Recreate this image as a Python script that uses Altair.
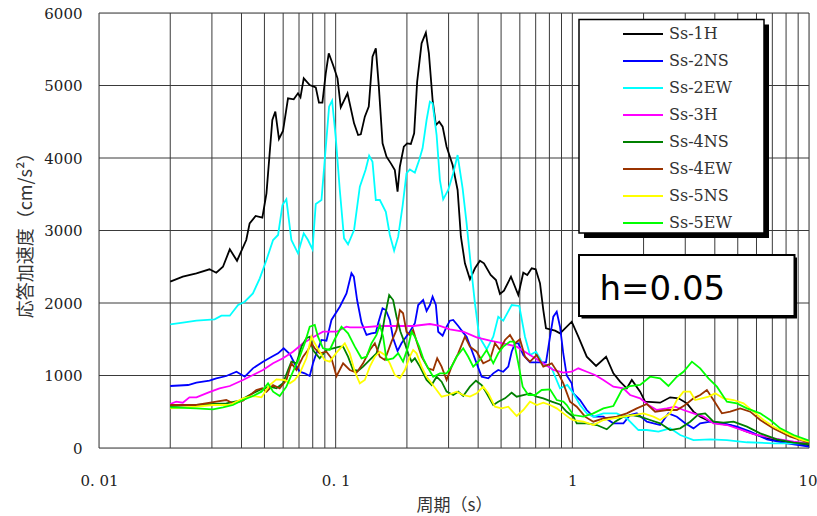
import altair as alt
import pandas as pd

# ---- data (period [s], response acceleration [cm/s^2]) ----
S_1H = [(0.02,2294),(0.0226,2363),(0.0258,2410),(0.0293,2465),(0.0313,2418),(0.0334,2500),(0.0357,2740),(0.0383,2583),
        (0.0419,2869),(0.0433,3099),(0.0459,3200),(0.049,3177),(0.051,3513),(0.054,4524),(0.0556,4639),(0.0576,4262),
        (0.0599,4372),(0.0629,4823),(0.0665,4810),(0.0693,4892),(0.071,4837),(0.0733,5099),(0.0777,5007),(0.0824,4975),
        (0.085,4763),(0.0879,4763),(0.0908,5168),(0.0935,5444),(0.0975,5283),(0.1018,5099),(0.1051,4699),(0.1122,4892),
        (0.1196,4478),(0.1244,4317),(0.1277,4326),(0.1328,4570),(0.138,4708),(0.1431,5398),(0.1478,5513),(0.1522,4984),
        (0.1578,4202),(0.164,4018),(0.1711,3926),(0.1778,3834),(0.1826,3535),(0.1867,3880),(0.1941,4156),(0.2004,4202),
        (0.2078,4193),(0.2146,4340),(0.221,5053),(0.2307,5582),(0.2405,5729),(0.2477,5444),(0.2568,4800),(0.2651,4455),
        (0.2738,4501),(0.2831,4432),(0.2943,4156),(0.312,3903),(0.3275,3559),(0.3382,2914),(0.3517,2548),(0.3693,2327),
        (0.3877,2479),(0.407,2584),(0.4232,2548),(0.4517,2386),(0.4756,2317),(0.4945,2124),(0.5142,2170),(0.5505,2363),
        (0.5911,2110),(0.6205,2418),(0.6451,2386),(0.6735,2479),(0.7002,2465),(0.7302,2271),(0.754,1903),(0.774,1651),
        (0.8451,1618),(0.8872,1582),(0.9942,1742),(1.06,1535),(1.1506,1259),(1.2597,1131),(1.3888,1259),(1.4908,1030),
        (1.5916,915),(1.6988,823),(1.7838,938),(1.9339,777),(2.0302,639),(2.3496,625),(2.5898,699),(2.8087,685),
        (3.0478,616),(3.2501,501),(3.469,432),(3.7028,386),(4.082,341),(4.6462,317),(5.4665,225),(6.642,133),
        (8.6084,64),(10,41)]

S_2NS = [(0.02,855),(0.0238,869),(0.0258,901),(0.0293,928),(0.0313,961),(0.0345,993),(0.0381,1052),(0.0413,983),
         (0.0447,1099),(0.0493,1191),(0.0544,1269),(0.0571,1306),(0.0603,1375),(0.064,1297),(0.0676,1145),(0.0705,1052),
         (0.074,1030),(0.0777,993),(0.0802,1168),(0.0829,1306),(0.0871,1490),(0.0914,1480),(0.096,1766),(0.1041,1949),
         (0.1111,2133),(0.1166,2410),(0.1193,2363),(0.1232,2041),(0.1286,1729),(0.135,1559),(0.1417,1582),(0.1478,1591),
         (0.1512,1720),(0.1578,1927),(0.1629,1903),(0.1694,1766),(0.1749,1513),(0.1826,1338),(0.1897,1444),(0.1979,1527),
         (0.2058,1604),(0.2161,1720),(0.2232,1972),(0.2343,2041),(0.2422,1890),(0.2501,1972),(0.2568,2087),(0.2651,1972),
         (0.2712,1604),(0.2831,1549),(0.2943,1673),(0.3039,1756),(0.3138,1766),(0.3295,1683),(0.3459,1591),(0.3575,1535),
         (0.3754,1352),(0.3941,1168),(0.4139,983),(0.4413,961),(0.4633,1030),(0.4864,1076),(0.5106,1052),(0.5362,1122),
         (0.5543,1328),(0.5723,1444),(0.5911,1444),(0.6205,1283),(0.6624,1182),(0.7182,1182),(0.774,1182),(0.805,1535),
         (0.8312,1811),(0.8591,1880),(0.8872,1673),(0.916,1300),(0.9469,1000),(0.9942,892),(1.0098,754),(1.0779,662),
         (1.1506,524),(1.227,432),(1.3525,432),(1.4908,341),(1.6434,341),(1.7545,455),(1.8726,478),(2.0642,363),
         (2.3496,317),(2.5471,478),(2.765,432),(2.9977,341),(3.25,271),(3.469,341),(3.8243,363),(4.3523,341),
         (4.959,294),(5.6455,225),(6.642,120),(8.0704,64),(10,18)]

S_2EW = [(0.02,1706),(0.0226,1729),(0.0258,1757),(0.0308,1775),(0.0329,1825),(0.0357,1825),(0.0387,1972),(0.0413,2018),
         (0.0447,2133),(0.0478,2340),(0.051,2593),(0.0544,2869),(0.0571,2938),(0.0596,3352),(0.0619,3430),(0.065,2869),
         (0.0693,2685),(0.0733,2961),(0.0764,2869),(0.0798,2740),(0.0824,3365),(0.0871,3421),(0.0938,4708),(0.0966,4791),
         (0.1,4294),(0.1041,3559),(0.1085,2892),(0.1128,2810),(0.1196,3007),(0.1265,3604),(0.1337,3834),(0.1385,4032),
         (0.1431,3949),(0.1478,3421),(0.1537,3421),(0.1629,3259),(0.1694,2938),(0.1766,2722),(0.1837,2915),(0.1916,3329),
         (0.1992,3789),(0.2058,3843),(0.2161,3798),(0.2254,3972),(0.2329,4133),(0.2422,4524),(0.2501,4777),(0.2568,4754),
         (0.267,4317),(0.2757,3696),(0.2847,3430),(0.2989,3559),(0.3138,3789),(0.3275,4041),(0.3439,3582),(0.3575,3099),
         (0.3717,2548),(0.3877,1996),(0.4042,1535),(0.4345,1361),(0.4633,1535),(0.4864,1811),(0.5106,1756),(0.5543,1972),
         (0.5968,1959),(0.6308,1535),(0.6624,1283),(0.7022,1328),(0.7497,1168),(0.8184,1099),(0.8872,823),(0.9524,869),
         (1.0098,754),(1.0779,593),(1.1506,478),(1.227,432),(1.3525,478),(1.5411,478),(1.6988,409),(1.9021,248),
         (2.0642,248),(2.3111,225),(2.5898,271),(2.8557,179),(3.25,110),(3.8243,120),(4.4989,110),(5.4665,79),
         (7.0843,64),(10,64)]

S_3H = [(0.02,607),(0.0212,639),(0.0226,625),(0.0241,699),(0.0258,699),(0.0289,763),(0.0323,823),(0.0357,855),
        (0.0406,938),(0.0447,1007),(0.0493,1076),(0.0544,1168),(0.0599,1237),(0.066,1328),(0.0728,1444),(0.0802,1527),
        (0.0884,1604),(0.1008,1604),(0.1111,1673),(0.1147,1665),(0.1306,1665),(0.1537,1683),(0.1808,1683),(0.2125,1683),
        (0.2501,1710),(0.2757,1683),(0.3039,1637),(0.3459,1604),(0.3941,1527),(0.4487,1480),(0.5106,1444),(0.5819,1398),
        (0.6624,1283),(0.754,1168),(0.8312,1076),(0.916,1039),(0.9942,1052),(1.0602,1099),(1.1506,1052),(1.2474,1007),
        (1.3525,938),(1.4908,846),(1.6434,823),(1.7545,731),(1.9339,685),(2.0968,593),(2.2751,524),(2.5076,547),
        (2.7195,570),(2.9484,524),(3.25,478),(3.582,432),(3.9487,341),(4.4989,317),(5.1214,258),(5.8307,193),
        (7.0843,133),(8.6084,87),(10,64)]

S_4NS = [(0.02,579),(0.0258,593),(0.0303,607),(0.0345,616),(0.0393,653),(0.0433,731),(0.0478,800),(0.0526,846),
         (0.0562,823),(0.0599,892),(0.0629,1076),(0.065,1191),(0.0683,1168),(0.0717,1398),(0.0752,1513),(0.0777,1535),
         (0.0802,1352),(0.0856,1237),(0.0914,1352),(0.0975,1375),(0.1041,1398),(0.1075,1398),(0.1128,1259),(0.1185,1076),
         (0.1244,1066),(0.1306,1122),(0.1394,1214),(0.1488,1306),(0.1562,1535),(0.1613,1811),(0.1683,2110),(0.1749,2041),
         (0.1808,1811),(0.1879,1604),(0.196,1444),(0.2024,1306),(0.2092,1191),(0.2161,1237),(0.2269,1122),(0.2422,938),
         (0.2543,869),(0.267,983),(0.2803,915),(0.2943,777),(0.3138,731),(0.3295,777),(0.3459,717),(0.3693,846),
         (0.3914,928),(0.4139,869),(0.4345,754),(0.4633,593),(0.4864,639),(0.5192,685),(0.5543,763),(0.5819,708),
         (0.6205,731),(0.6624,754),(0.7071,708),(0.754,685),(0.8184,639),(0.8872,600),(0.9469,500),(1.0098,432),
         (1.0438,341),(1.1506,341),(1.2682,317),(1.3981,258),(1.5157,363),(1.6434,432),(1.7838,455),(1.9339,432),
         (2.1319,386),(2.3496,341),(2.5898,248),(2.8557,271),(3.1477,363),(3.4119,464),(3.6419,478),(3.9487,363),
         (4.3523,349),(4.7983,363),(5.4665,294),(6.223,202),(7.3216,120),(8.6084,73),(10,55)]

S_4EW = [(0.02,593),(0.0258,593),(0.0313,639),(0.0345,662),(0.0368,616),(0.0406,653),(0.0462,800),(0.049,823),
         (0.051,777),(0.0544,869),(0.058,823),(0.0619,938),(0.065,1168),(0.0683,1076),(0.0728,1259),(0.0764,1352),
         (0.079,1444),(0.0816,1375),(0.0856,1306),(0.0914,1328),(0.096,1237),(0.1008,990),(0.1075,1168),(0.1147,1076),
         (0.1225,1039),(0.1306,1168),(0.1394,1352),(0.1464,1444),(0.1537,1259),(0.1613,1214),(0.1722,1467),(0.1808,1628),
         (0.1867,1903),(0.1927,1858),(0.1992,1604),(0.2058,1559),(0.2125,1628),(0.221,1444),(0.2307,1259),(0.246,1099),
         (0.2583,1076),(0.2685,1237),(0.2803,1122),(0.2943,938),(0.3089,1122),(0.3295,1306),(0.3517,1535),(0.3693,1398),
         (0.3941,1328),(0.4203,1168),(0.4487,1214),(0.471,1444),(0.4945,1352),(0.5192,1490),(0.5451,1559),(0.5723,1444),
         (0.6009,1499),(0.6308,1259),(0.6624,1191),(0.7071,1283),(0.754,1122),(0.8184,1168),(0.8726,1030),(0.916,892),
         (0.9779,639),(1.0438,570),(1.1317,432),(1.227,363),(1.3525,409),(1.5411,432),(1.6988,478),(1.8726,547),
         (2.0642,607),(2.2381,501),(2.5076,524),(2.765,524),(2.9977,593),(3.25,685),(3.469,731),(3.7028,800),
         (3.9487,662),(4.2855,478),(4.6462,501),(5.1214,547),(5.6455,501),(6.223,386),(7.0843,271),(8.335,156),(10,73)]

S_5NS = [(0.02,547),(0.0258,570),(0.0303,593),(0.0357,593),(0.0406,685),(0.0447,717),(0.0486,699),(0.0526,869),
         (0.0562,947),(0.0609,938),(0.064,892),(0.0671,938),(0.0705,1030),(0.0752,1237),(0.079,1535),(0.0816,1444),
         (0.0856,1328),(0.0899,1214),(0.0944,1191),(0.1008,1315),(0.1093,1444),(0.1147,1306),(0.1205,1052),(0.1265,892),
         (0.1328,938),(0.1394,1122),(0.1464,1259),(0.1537,1328),(0.1613,1283),(0.1694,1168),(0.1778,1007),(0.1867,961),
         (0.196,1076),(0.2058,1259),(0.2125,1352),(0.2197,1306),(0.2307,1122),(0.2422,983),(0.2543,892),(0.267,800),
         (0.2803,708),(0.2989,731),(0.3243,777),(0.3459,731),(0.3693,708),(0.3941,754),(0.4203,846),(0.4413,754),
         (0.471,570),(0.5028,547),(0.5362,570),(0.5819,441),(0.6205,524),(0.6624,639),(0.7071,593),(0.754,625),
         (0.805,593),(0.8591,547),(0.916,478),(0.9779,409),(1.0098,386),(1.1131,363),(1.227,317),(1.3525,386),
         (1.4908,409),(1.6434,432),(1.8113,455),(1.9968,478),(2.2013,432),(2.3496,386),(2.5898,478),(2.765,662),
         (2.9484,777),(3.1477,777),(3.3037,662),(3.5271,685),(3.7613,708),(4.0148,754),(4.3523,685),(4.7983,662),
         (5.2892,616),(5.8307,501),(6.4269,386),(7.0843,294),(8.0704,202),(9.1894,120),(10,87)]

S_5EW = [(0.02,561),(0.0258,547),(0.0303,533),(0.0334,561),(0.0368,593),(0.0406,662),(0.0447,717),(0.0486,777),
         (0.0518,892),(0.0544,777),(0.058,717),(0.0619,846),(0.066,1052),(0.0705,1259),(0.074,1444),(0.0777,1673),
         (0.0816,1697),(0.0842,1535),(0.0884,1375),(0.0944,1352),(0.0991,1500),(0.1058,1673),(0.1128,1582),(0.1205,1398),
         (0.1286,1237),(0.135,1259),(0.1417,1444),(0.1488,1559),(0.1537,1697),(0.1587,1535),(0.164,1214),(0.1749,1237),
         (0.1837,1306),(0.1927,1191),(0.2024,1398),(0.2092,1604),(0.2161,1535),(0.2254,1398),(0.2343,1237),(0.246,1099),
         (0.2583,983),(0.2757,1030),(0.2943,1030),(0.3089,1122),(0.3243,1259),(0.3459,1375),(0.3632,1259),(0.3813,1122),
         (0.407,1214),(0.4345,1352),(0.4633,1168),(0.4864,1306),(0.5106,1398),(0.5451,1467),(0.5668,1467),(0.5911,1168),
         (0.6169,846),(0.6515,731),(0.6954,731),(0.7425,800),(0.805,809),(0.8591,662),(0.916,639),(0.9469,593),
         (1.0098,455),(1.1131,432),(1.227,478),(1.3525,547),(1.4908,579),(1.6182,800),(1.7545,855),(1.9339,869),
         (2.1319,983),(2.3496,961),(2.5471,855),(2.765,983),(2.9484,1052),(3.2004,1191),(3.469,1099),(3.7613,961),
         (4.082,846),(4.4989,639),(4.959,616),(5.4665,547),(6.223,478),(6.8597,386),(7.5615,271),(8.6084,179),(10,101)]

SERIES_NAMES = ["Ss-1H", "Ss-2NS", "Ss-2EW", "Ss-3H", "Ss-4NS", "Ss-4EW", "Ss-5NS", "Ss-5EW"]
SERIES_COLORS = ["#000000", "#0000FF", "#00FFFF", "#FF00FF", "#008000", "#993300", "#FFFF00", "#00FF00"]
SERIES_DATA = [S_1H, S_2NS, S_2EW, S_3H, S_4NS, S_4EW, S_5NS, S_5EW]

X_GRID = [0.01, 0.02, 0.03, 0.04, 0.05, 0.06, 0.07, 0.08, 0.09,
          0.1, 0.2, 0.3, 0.4, 0.5, 0.6, 0.7, 0.8, 0.9,
          1, 2, 3, 4, 5, 6, 7, 8, 9, 10]
X_LABELS = {0.01: "0. 01", 0.1: "0. 1", 1: "1", 10: "10"}
Y_TICKS = [0, 1000, 2000, 3000, 4000, 5000, 6000]

rows = []
for k, (name, pts) in enumerate(zip(SERIES_NAMES, SERIES_DATA)):
    for j, (t, a) in enumerate(pts):
        rows.append({"series": name, "k": k, "idx": j, "T": t, "A": a})
df = pd.DataFrame(rows)

label_expr = " : ".join(
    f"datum.value == {v} ? '{s}'" for v, s in X_LABELS.items()
) + " : ''"

W, H = 710, 435
one = pd.DataFrame({"u": [0]})
x_scale = alt.Scale(type="log", domain=[0.01, 10], nice=False)
y_scale = alt.Scale(domain=[0, 6000], nice=False)
GRID_COLOR = "#3a3a3a"

x_axis = alt.Axis(values=X_GRID, labelExpr=label_expr, grid=False, ticks=False,
                  domain=False, labelOverlap=False, labelFlush=False,
                  labelAlign={"condition": {"test": "datum.value >= 10", "value": "right"},
                              "value": "center"},
                  labelOffset={"condition": {"test": "datum.value >= 10", "value": 8},
                               "value": 0},
                  labelPadding=25, labelFont="DejaVu Serif", labelFontSize=15,
                  labelColor="#222", title="周期（s）", titleFont="Noto Sans CJK JP",
                  titleFontSize=17, titleFontWeight="normal", titleColor="#333",
                  titlePadding=9)
y_axis = alt.Axis(values=Y_TICKS, format="d", grid=False, ticks=False, domain=False,
                  labelPadding=17, labelFont="DejaVu Serif", labelFontSize=15,
                  labelColor="#222", title="応答加速度（cm/s²）",
                  titleFont="Noto Sans CJK JP", titleFontSize=18,
                  titleFontWeight="normal", titleColor="#333", titlePadding=8)

vgrid = alt.Chart(pd.DataFrame({"T": X_GRID})).mark_rule(color=GRID_COLOR, strokeWidth=1).encode(
    x=alt.X("T:Q", scale=x_scale, axis=x_axis))
hgrid = alt.Chart(pd.DataFrame({"A": Y_TICKS})).mark_rule(color=GRID_COLOR, strokeWidth=1).encode(
    y=alt.Y("A:Q", scale=y_scale, axis=y_axis))

lines = alt.Chart(df).mark_line(strokeWidth=1.8).encode(
    x=alt.X("T:Q", scale=x_scale, axis=x_axis),
    y=alt.Y("A:Q", scale=y_scale, axis=y_axis),
    color=alt.Color("series:N",
                    scale=alt.Scale(domain=SERIES_NAMES, range=SERIES_COLORS),
                    legend=alt.Legend(title=None, orient="none", legendX=523, legendY=8,
                                      symbolType="stroke", symbolSize=1600, symbolStrokeWidth=2,
                                      labelFont="DejaVu Serif", labelFontSize=16, labelColor="#333",
                                      labelOffset=5, clipHeight=26.2, rowPadding=0, padding=0,
                                      labelLimit=200)),
    detail="k:N",
    order="idx:Q",
)

leg_shadow = alt.Chart(one).mark_rect(color="black").encode(
    x=alt.value(485), x2=alt.value(670), y=alt.value(11.5), y2=alt.value(225))
leg_box = alt.Chart(one).mark_rect(fill="white", stroke="black", strokeWidth=1.5).encode(
    x=alt.value(480), x2=alt.value(665), y=alt.value(6.5), y2=alt.value(220))
h_shadow = alt.Chart(one).mark_rect(color="black").encode(
    x=alt.value(482.5), x2=alt.value(698), y=alt.value(244.5), y2=alt.value(305.5))
h_box = alt.Chart(one).mark_rect(fill="white", stroke="black", strokeWidth=2).encode(
    x=alt.value(480), x2=alt.value(695.5), y=alt.value(242), y2=alt.value(303))
h_text = alt.Chart(one).mark_text(text="h=0.05", font="DejaVu Sans", fontSize=34,
                                  align="left", baseline="alphabetic", color="black").encode(
    x=alt.value(500.5), y=alt.value(286.5))

chart = alt.layer(vgrid, hgrid, leg_shadow, leg_box, h_shadow, h_box, lines, h_text).properties(
    width=W, height=H,
    padding={"left": 99, "top": 13, "right": 8, "bottom": 68},
    autosize=alt.AutoSizeParams(type="none"),
).configure_view(
    stroke="black", strokeWidth=2
).configure(background="white")

chart.save("out.html", embed_options={"renderer": "svg", "actions": False})
